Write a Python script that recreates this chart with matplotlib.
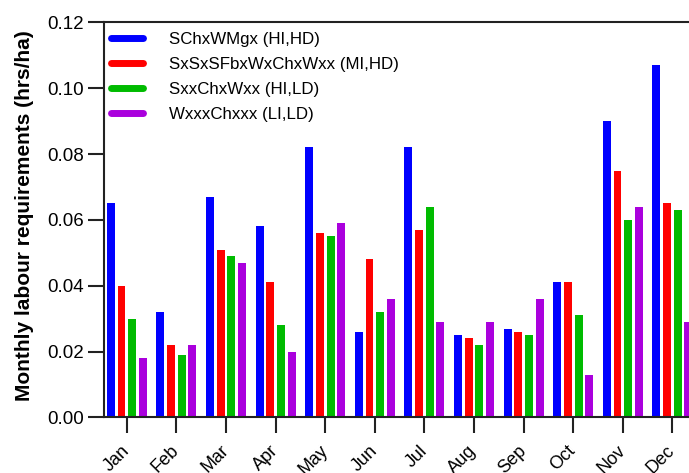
import numpy as np
import matplotlib
matplotlib.use("Agg")
import matplotlib.pyplot as plt
from matplotlib.lines import Line2D

plt.rcParams['font.family'] = ['Liberation Sans', 'DejaVu Sans']

months = ['Jan', 'Feb', 'Mar', 'Apr', 'May', 'Jun', 'Jul', 'Aug', 'Sep', 'Oct', 'Nov', 'Dec']
series_names = ['SChxWMgx (HI,HD)', 'SxSxSFbxWxChxWxx (MI,HD)', 'SxxChxWxx (HI,LD)', 'WxxxChxxx (LI,LD)']
colors = ['#0000ff', '#ff0000', '#00bb00', '#aa00dd']

s_hi_hd = [0.065, 0.032, 0.067, 0.058, 0.082, 0.026, 0.082, 0.025, 0.027, 0.041, 0.090, 0.107]
s_mi_hd = [0.040, 0.022, 0.051, 0.041, 0.056, 0.048, 0.057, 0.024, 0.026, 0.041, 0.075, 0.065]
s_hi_ld = [0.030, 0.019, 0.049, 0.028, 0.055, 0.032, 0.064, 0.022, 0.025, 0.031, 0.060, 0.063]
s_li_ld = [0.018, 0.022, 0.047, 0.020, 0.059, 0.036, 0.029, 0.029, 0.036, 0.013, 0.064, 0.029]
series = [s_hi_hd, s_mi_hd, s_hi_ld, s_li_ld]

fig = plt.figure(figsize=(6.89, 4.73), dpi=100)
# axes runs past the right edge of the figure (chart is cropped there)
ax = fig.add_axes([103.5 / 689, 1 - 417.4 / 473, (720 - 103.5) / 689, 395 / 473])

x = np.arange(1, 13)
pitch = 0.215
width = 0.16
for i, (vals, c) in enumerate(zip(series, colors)):
    ax.bar(x + (i - 1.5) * pitch, vals, width, color=c, linewidth=0)

ax.set_xlim(0.53, 0.53 + (720 - 103.5) / 49.6)
ax.set_ylim(0, 0.12)
ax.set_yticks(np.arange(0, 0.121, 0.02))
ax.set_yticklabels(['%.2f' % v for v in np.arange(0, 0.121, 0.02)], fontsize=13.5)
ax.set_xticks(x)
ax.set_xticklabels(months, rotation=45, fontsize=13, ha='right', va='center',
                   rotation_mode='anchor')
ax.tick_params(axis='both', direction='out', length=11.3, width=1.5, color='#222222')
ax.tick_params(axis='y', pad=2.5)
ax.tick_params(axis='x', pad=11)
ax.spines['right'].set_visible(False)
for s in ['left', 'bottom', 'top']:
    ax.spines[s].set_linewidth(1.5)
    ax.spines[s].set_color('#222222')

ax.set_ylabel('Monthly labour requirements (hrs/ha)', fontsize=15, fontweight='bold')
ax.yaxis.set_label_coords(-(103.5 - 34) / 616.5, 0.512)

handles = [Line2D([0], [0], color=c, lw=5, solid_capstyle='round') for c in colors]
ax.legend(handles, series_names, loc='upper left', bbox_to_anchor=(0.0114, 0.9767),
          frameon=False, fontsize=12.2, borderpad=0, borderaxespad=0,
          handlelength=1.9, handletextpad=1.57, labelspacing=0.6)

fig.savefig('out.png', dpi=100)
